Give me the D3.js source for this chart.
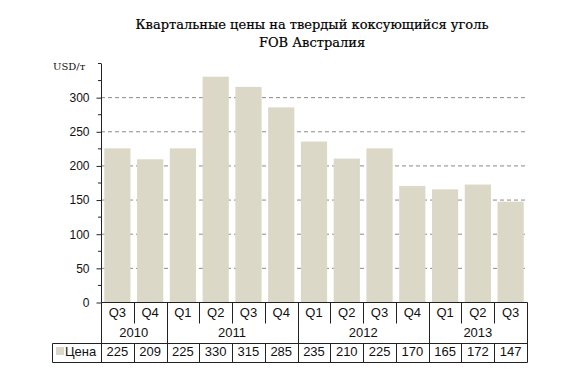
<!DOCTYPE html>
<html><head><meta charset="utf-8">
<script src="https://cdn.jsdelivr.net/npm/d3@7"></script>
<style>
body{margin:0;background:#fff;}
svg{display:block;}
.sans{font-family:"Liberation Sans",Arial,sans-serif;}
</style></head>
<body>
<svg id="chart" width="574" height="389"></svg>
<script>
const quarters = ["Q3","Q4","Q1","Q2","Q3","Q4","Q1","Q2","Q3","Q4","Q1","Q2","Q3"];
const years = ["2010","2010","2011","2011","2011","2011","2012","2012","2012","2012","2013","2013","2013"];
const prices = [225,209,225,330,315,285,235,210,225,170,165,172,147];
const yTicks = [0,50,100,150,200,250,300];
const seriesName = "Цена";
const titleLines = ["Квартальные цены на твердый коксующийся уголь","FOB Австралия"];
const unitLabel = "USD/т";

const svg = d3.select("#chart");
const L = 101, R = 527, T = 63, B = 302;
const barColor = "#dcd8c7";
const lineColor = "#222";

const idx = d3.range(prices.length);
const x = d3.scaleBand().domain(idx).range([L, R]).paddingInner(0.2).paddingOuter(0.1);
const y = d3.scaleLinear().domain([0, 350]).range([B, T]);

// title
titleLines.forEach((t, i) => {
  svg.append("text").attr("x", 312).attr("y", 29 + i * 18)
    .attr("text-anchor", "middle")
    .style("font-family", "'DejaVu Serif',serif").style("font-size", "13px")
    .attr("fill", "#000").attr("stroke", "#000").attr("stroke-width", 0.2).text(t);
});
svg.append("text").attr("x", 53).attr("y", 70)
  .style("font-family", "'DejaVu Serif',serif").style("font-size", "10px")
  .attr("fill", "#111").text(unitLabel);

// gridlines
svg.append("g").selectAll("line").data(yTicks.filter(d => d > 0)).join("line")
  .attr("x1", L).attr("x2", R).attr("y1", d => y(d) + 0.5).attr("y2", d => y(d) + 0.5)
  .attr("stroke", "#8a8a8a").attr("stroke-dasharray", "4,3").attr("stroke-width", 1);

// bars
svg.append("g").selectAll("rect").data(idx).join("rect")
  .attr("x", i => x(i)).attr("width", x.bandwidth())
  .attr("y", i => y(prices[i])).attr("height", i => B - y(prices[i]))
  .attr("fill", barColor);

// y axis
const yAxis = d3.axisLeft(y).tickValues(yTicks).tickSize(5).tickPadding(7);
const gy = svg.append("g").attr("transform", `translate(${L + 0.5},0.5)`).call(yAxis);
gy.select(".domain").attr("d", `M0,${T}V${B}`).attr("stroke", lineColor);
gy.selectAll(".tick line").attr("stroke", lineColor);
gy.selectAll(".tick text").attr("class", "sans").style("font-size", "12px").attr("fill", "#111");
// minor ticks
svg.append("g").selectAll("line").data(d3.range(25, 350, 50).concat([350])).join("line")
  .attr("x1", L - 3).attr("x2", L).attr("y1", d => y(d) + 0.5).attr("y2", d => y(d) + 0.5)
  .attr("stroke", lineColor);

// table
const tb = svg.append("g").attr("class", "sans").style("font-size", "13px");
const rowQ = 323, rowY = 343, rowD = 362;
const ln = (x1, y1, x2, y2) => tb.append("line")
  .attr("x1", Math.round(x1) + 0.5).attr("x2", Math.round(x2) + 0.5)
  .attr("y1", Math.round(y1) + 0.5).attr("y2", Math.round(y2) + 0.5)
  .attr("stroke", lineColor);
const edge = i => L + (R - L) * i / prices.length;

// x axis line
ln(L, B, R, B);
// quarter separators & year separators
for (let i = 0; i <= prices.length; i++) {
  const xe = edge(i);
  const yearBoundary = i === 0 || i === prices.length || years[i] !== years[i - 1];
  if (yearBoundary) ln(xe, B, xe, rowD);
  else { ln(xe, B, xe, rowQ); ln(xe, rowY, xe, rowD); }
}
// data row box
ln(52, rowY, R, rowY);
ln(52, rowD, R, rowD);
ln(52, rowY, 52, rowD);

// quarter labels
tb.selectAll("text.q").data(idx).join("text").attr("class", "q")
  .attr("x", i => x(i) + x.bandwidth() / 2).attr("y", 317)
  .attr("text-anchor", "middle").attr("fill", "#111").text(i => quarters[i]);
// year labels
const yearGroups = d3.groups(idx, i => years[i]);
tb.selectAll("text.yr").data(yearGroups).join("text").attr("class", "yr")
  .attr("x", d => (edge(d[1][0]) + edge(d[1][d[1].length - 1] + 1)) / 2).attr("y", 337)
  .attr("text-anchor", "middle").attr("fill", "#111").text(d => d[0]);
// values
tb.selectAll("text.v").data(idx).join("text").attr("class", "v")
  .attr("x", i => x(i) + x.bandwidth() / 2).attr("y", 356)
  .attr("text-anchor", "middle").attr("fill", "#111").text(i => prices[i]);
// legend
tb.append("rect").attr("x", 56).attr("y", 347).attr("width", 8).attr("height", 8).attr("fill", barColor);
tb.append("text").attr("x", 65).attr("y", 356).attr("fill", "#111").text(seriesName);
</script>
</body></html>
